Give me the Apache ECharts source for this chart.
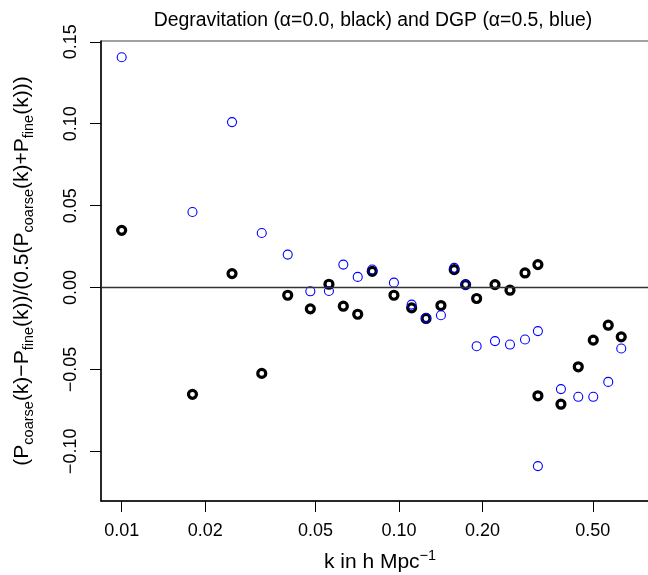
<!DOCTYPE html>
<html>
<head>
<meta charset="utf-8">
<script src="https://cdn.jsdelivr.net/npm/echarts@6/dist/echarts.min.js"></script>
<style>
  html, body { margin: 0; padding: 0; background: #fff; }
  #main { width: 648px; height: 575px; }
</style>
</head>
<body>
<div id="main"></div>
<script>
// k values (h/Mpc), shared by both models
var kValues = [0.0100, 0.0180, 0.0250, 0.0320, 0.0397, 0.0479, 0.0559, 0.0630, 0.0710,
	0.0801, 0.0959, 0.1111, 0.1252, 0.1417, 0.1582, 0.1739, 0.1906, 0.2220, 0.2514,
	0.2848, 0.3170, 0.3170, 0.3838, 0.4432, 0.5020, 0.5685, 0.6333];
// degravitation, alpha = 0.0 (black)
var degravDiff = [0.0349, -0.0652, 0.0085, -0.0524, -0.0047, -0.0130, 0.0020, -0.0114, -0.0163,
	0.0099, -0.0047, -0.0124, -0.0189, -0.0110, 0.0110, 0.0018, -0.0067, 0.0018, -0.0016,
	0.0089, 0.0140, -0.0661, -0.0712, -0.0484, -0.0321, -0.0230, -0.0301];
// DGP, alpha = 0.5 (blue)
var dgpDiff = [0.1406, 0.0461, 0.1010, 0.0333, 0.0201, -0.0023, -0.0021, 0.0140, 0.0065,
	0.0110, 0.0030, -0.0104, -0.0185, -0.0169, 0.0120, 0.0018, -0.0358, -0.0327, -0.0348,
	-0.0317, -0.0266, -0.1090, -0.0620, -0.0667, -0.0667, -0.0576, -0.0372];
// tick labels
var xTicks = [0.01, 0.02, 0.05, 0.10, 0.20, 0.50];
var yTicks = [-0.10, -0.05, 0.00, 0.05, 0.10, 0.15];

var FONT = '"Liberation Sans", Arial, Helvetica, sans-serif';

function pairs(ys) {
	return kValues.map(function (k, i) { return [k, ys[i]]; });
}

function fmt(v) {
	var s = Math.abs(v).toFixed(2);
	return v < -1e-9 ? '\u2212' + s : s;
}

function initOption() {
	return {
		animation: false,
		backgroundColor: '#fff',
		textStyle: { fontFamily: FONT },
		title: {
			text: 'Degravitation (\u03b1=0.0, black) and DGP (\u03b1=0.5, blue)',
			left: 368,
			top: 6,
			textAlign: 'center',
			textStyle: { fontFamily: FONT, fontSize: 19.4, fontWeight: 'normal', color: '#000' }
		},
		grid: {
			left: 101,
			top: 41,
			width: 558,
			height: 460,
			show: true,
			borderColor: '#444',
			borderWidth: 1,
			containLabel: false,
			outerBoundsMode: 'none'
		},
		xAxis: {
			type: 'log',
			logBase: 10,
			min: 0.008422,
			max: 0.8665,
			name: 'k in h Mpc{sup|\u22121}',
			nameLocation: 'middle',
			nameGap: 47,
			nameMoveOverlap: false,
			nameTextStyle: {
				fontFamily: FONT, fontSize: 21, color: '#000',
				rich: { sup: { fontFamily: FONT, fontSize: 14.5, color: '#000', padding: [0, 0, 13, 0] } }
			},
			axisLine: { show: true, onZero: false, lineStyle: { color: '#000', width: 1.5 } },
			axisTick: { show: true, inside: false, length: 11, lineStyle: { color: '#000', width: 1 }, customValues: xTicks },
			axisLabel: {
				customValues: xTicks,
				margin: 21,
				fontFamily: FONT, fontSize: 18, color: '#000',
				formatter: function (v) { return fmt(v); }
			},
			splitLine: { show: false },
			minorTick: { show: false }
		},
		yAxis: {
			type: 'value',
			min: -0.1303,
			max: 0.1505,
			name: '(P{sub|coarse}(k)\u2212P{sub|fine}(k))/(0.5(P{sub|coarse}(k)+P{sub|fine}(k)))',
			nameLocation: 'middle',
			nameRotate: 90,
			nameGap: 65,
			nameMoveOverlap: false,
			nameTextStyle: {
				fontFamily: FONT, fontSize: 21, color: '#000',
				rich: { sub: { fontFamily: FONT, fontSize: 14.5, color: '#000', padding: [12, 0, 0, 0] } }
			},
			axisLine: { show: true, onZero: false, lineStyle: { color: '#000', width: 1.5 } },
			axisTick: { show: true, inside: false, length: 11, lineStyle: { color: '#000', width: 1 }, customValues: yTicks },
			axisLabel: {
				customValues: yTicks,
				rotate: 90,
				margin: 21,
				fontFamily: FONT, fontSize: 18, color: '#000',
				formatter: function (v) { return fmt(v); }
			},
			splitLine: { show: false }
		},
		series: [{
			name: 'degravitation',
			type: 'scatter',
			data: pairs(degravDiff),
			symbol: 'circle',
			symbolSize: 8,
			itemStyle: { color: 'rgba(0,0,0,0)', borderColor: '#000', borderWidth: 3.2, opacity: 1 },
			markLine: {
				silent: true,
				symbol: 'none',
				label: { show: false },
				lineStyle: { color: '#333', width: 1.3, type: 'solid' },
				data: [{ yAxis: 0 }]
			},
			z: 2
		},
		{
			name: 'DGP',
			type: 'scatter',
			data: pairs(dgpDiff),
			symbol: 'circle',
			symbolSize: 9,
			itemStyle: { color: 'rgba(0,0,0,0)', borderColor: '#0000ff', borderWidth: 1.1, opacity: 1 },
			z: 3
		}]
	};
}

var chart = echarts.init(document.getElementById('main'), null, { renderer: 'canvas' });
chart.setOption(initOption());
</script>
</body>
</html>
